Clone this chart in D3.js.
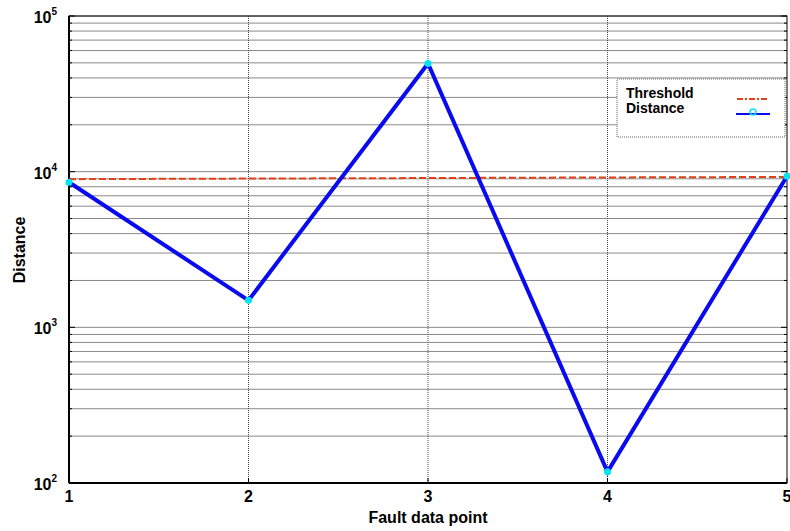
<!DOCTYPE html>
<html>
<head>
<meta charset="utf-8">
<script src="https://cdn.jsdelivr.net/npm/d3@7"></script>
<style>
  body { margin: 0; background: #fff; }
  text { font-family: "Liberation Sans", Arial, sans-serif; font-weight: bold; fill: #000; }
</style>
</head>
<body>
<svg id="chart" width="790" height="531"></svg>
<script>
// Data
const points = [1, 2, 3, 4, 5];
const distance = [8550, 1490, 49500, 118, 9350];
const threshold = [8950, 9030, 9100, 9180, 9250];
const yDecades = [2, 3, 4, 5];
const legendLabels = ['Threshold', 'Distance'];

const svg = d3.select('#chart');
const margin = { left: 69, right: 3, top: 16, bottom: 48 };
const width = 790 - margin.left - margin.right;
const height = 531 - margin.top - margin.bottom;

const x = d3.scaleLinear().domain([1, 5]).range([0, width]);
const y = d3.scaleLog().domain([100, 100000]).range([height, 0]);

const g = svg.append('g').attr('transform', `translate(${margin.left},${margin.top})`);

// minor + major horizontal grid lines
const minorVals = [];
for (let e = 2; e < 5; e++) {
  for (let m = 1; m <= 9; m++) minorVals.push(m * Math.pow(10, e));
}
minorVals.push(100000);

g.append('g').selectAll('line')
  .data(minorVals)
  .enter().append('line')
  .attr('x1', 0).attr('x2', width)
  .attr('y1', d => y(d)).attr('y2', d => y(d))
  .attr('stroke', '#8a8a8a')
  .attr('stroke-width', 1);

// vertical grid lines (dotted)
g.append('g').selectAll('line')
  .data(points.slice(1, -1))
  .enter().append('line')
  .attr('x1', d => x(d)).attr('x2', d => x(d))
  .attr('y1', 0).attr('y2', height)
  .attr('stroke', '#444')
  .attr('stroke-width', 1)
  .attr('stroke-dasharray', '1,1');

// small inward ticks on left and right
const tickG = g.append('g');
minorVals.forEach(v => {
  const len = yDecades.includes(Math.round(Math.log10(v) * 1000) / 1000) ? 6 : 3;
  tickG.append('line').attr('x1', 0).attr('x2', len).attr('y1', y(v)).attr('y2', y(v)).attr('stroke', '#000');
  tickG.append('line').attr('x1', width).attr('x2', width - len).attr('y1', y(v)).attr('y2', y(v)).attr('stroke', '#000');
});
points.forEach(p => {
  tickG.append('line').attr('x1', x(p)).attr('x2', x(p)).attr('y1', height).attr('y2', height - 5).attr('stroke', '#000');
});

// axes frame
g.append('rect')
  .attr('x', 0).attr('y', 0).attr('width', width).attr('height', height)
  .attr('fill', 'none').attr('stroke', '#000').attr('stroke-width', 1);
g.append('line').attr('x1', 0).attr('x2', 0).attr('y1', 0).attr('y2', height).attr('stroke', '#000').attr('stroke-width', 2);
g.append('line').attr('x1', 0).attr('x2', width).attr('y1', height).attr('y2', height).attr('stroke', '#000').attr('stroke-width', 2);

// y tick labels 10^n
yDecades.forEach(e => {
  const t = g.append('text')
    .attr('x', -12).attr('y', y(Math.pow(10, e)) + 7)
    .attr('text-anchor', 'end')
    .style('font-size', '16px');
  t.append('tspan').text('10');
  t.append('tspan').attr('dy', -8).style('font-size', '10px').text(e);
});

// x tick labels
g.append('g').selectAll('text')
  .data(points)
  .enter().append('text')
  .attr('x', d => x(d)).attr('y', height + 19)
  .attr('text-anchor', 'middle')
  .style('font-size', '16px')
  .text(d => d);

// axis titles
svg.append('text')
  .attr('x', margin.left + width / 2).attr('y', 523)
  .attr('text-anchor', 'middle')
  .style('font-size', '16px')
  .text('Fault data point');
svg.append('text')
  .attr('transform', `translate(25,250) rotate(-90)`)
  .attr('text-anchor', 'middle')
  .style('font-size', '16px')
  .text('Distance');

// threshold line
const line = d3.line().x((d, i) => x(points[i])).y(d => y(d));
g.append('path')
  .datum(threshold)
  .attr('d', line)
  .attr('fill', 'none')
  .attr('stroke', '#e0401a')
  .attr('stroke-width', 2)
  .attr('stroke-dasharray', '7,3');

// distance line
g.append('path')
  .datum(distance)
  .attr('d', line)
  .attr('fill', 'none')
  .attr('stroke', '#0a0aee')
  .attr('stroke-width', 4)
  .attr('stroke-linejoin', 'miter');

g.append('g').selectAll('circle')
  .data(distance)
  .enter().append('circle')
  .attr('cx', (d, i) => x(points[i]))
  .attr('cy', d => y(d))
  .attr('r', 3.5)
  .attr('fill', '#00e5f0');

// legend
const lg = svg.append('g').attr('transform', 'translate(617,79)');
lg.append('rect')
  .attr('width', 168).attr('height', 58)
  .attr('fill', '#fff')
  .attr('stroke', '#666')
  .attr('stroke-width', 1)
  .attr('stroke-dasharray', '1,1');
legendLabels.forEach((lab, i) => {
  lg.append('text')
    .attr('x', 9).attr('y', 19 + i * 15)
    .style('font-size', '14px')
    .text(lab);
});
lg.append('line')
  .attr('x1', 120).attr('x2', 150).attr('y1', 20).attr('y2', 20)
  .attr('stroke', '#e0401a').attr('stroke-width', 2)
  .attr('stroke-dasharray', '6,2,2,2');
lg.append('line')
  .attr('x1', 119).attr('x2', 153).attr('y1', 35).attr('y2', 35)
  .attr('stroke', '#0a0aee').attr('stroke-width', 2);
lg.append('circle')
  .attr('cx', 136).attr('cy', 33).attr('r', 3)
  .attr('fill', 'none').attr('stroke', '#00e5f0').attr('stroke-width', 1.5);
</script>
</body>
</html>
